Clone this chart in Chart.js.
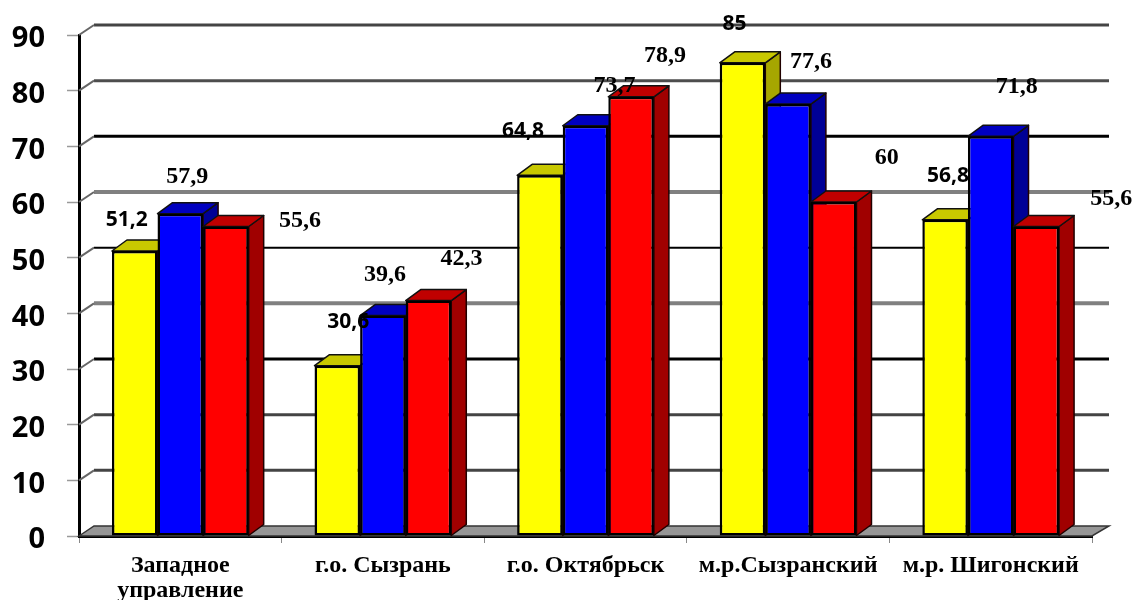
<!DOCTYPE html>
<html>
<head>
<meta charset="utf-8">
<script src="https://cdn.jsdelivr.net/npm/chart.js@4"></script>
<style>
  html, body { margin: 0; padding: 0; background: #fff; overflow: hidden; }
  canvas { display: block; }
</style>
</head>
<body>
<canvas id="myChart" width="1135" height="600"></canvas>
<script>
// data
const categories = [
  ["Западное", "управление"],
  "г.о. Сызрань",
  "г.о. Октябрьск",
  "м.р.Сызранский",
  "м.р. Шигонский",
];
const yellowValues = [51.2, 30.6, 64.8, 85, 56.8];
const blueValues = [57.9, 39.6, 73.7, 77.6, 71.8];
const redValues = [55.6, 42.3, 78.9, 60, 55.6];

// label shift from the top middle of each bar, the labels were moved by hand in the original
const yellowShift = [[-8, -31], [11, -44], [-17, -44], [-8, -39], [3, -44]];
const blueShift = [[7, -37], [2, -41], [29, -40], [23, -42], [26, -50]];
const redShift = [[74, -6], [33, -42], [34, -41], [53, -44], [75, -28]];

// back wall lines, from 0 up to 90
const gridColors = ["#444", "#444", "#444", "#000", "#808080", "#000", "#808080", "#000", "#4d4d4d", "#444"];
const gridWidths = [3, 3, 3, 3, 4, 2, 4, 3, 3, 3];

const depthX = 15;
const depthY = 10;
const barDepthY = 11;

const serifLabel = 'bold 24px "Liberation Serif"';
const sansLabel = 'bold 21px "Open Sans"';

function polygon(ctx, pts, fill, stroke, width) {
  ctx.beginPath();
  pts.forEach((p, i) => (i ? ctx.lineTo(p[0], p[1]) : ctx.moveTo(p[0], p[1])));
  ctx.closePath();
  ctx.fillStyle = fill;
  ctx.fill();
  ctx.lineWidth = width;
  ctx.strokeStyle = stroke;
  ctx.stroke();
}

// walls, floor, bars and labels
const wallPlugin = {
  id: "wall",
  beforeDatasetsDraw(chart) {
    const ctx = chart.ctx;
    const y = chart.scales.y;
    const area = chart.chartArea;
    const base = y.getPixelForValue(0);
    ctx.save();
    polygon(ctx, [
      [area.left, base],
      [area.left + depthX, base - depthY],
      [area.right + depthX + 2, base - depthY],
      [area.right, base],
    ], "#969696", "#333", 1.5);
    y.ticks.forEach((tick, i) => {
      const py = y.getPixelForValue(tick.value);
      if (tick.value > 0) {
        ctx.beginPath();
        ctx.moveTo(area.left + depthX, py - depthY);
        ctx.lineTo(area.right + depthX + 2, py - depthY);
        ctx.lineWidth = gridWidths[i];
        ctx.strokeStyle = gridColors[i];
        ctx.stroke();
        ctx.beginPath();
        ctx.moveTo(area.left, py);
        ctx.lineTo(area.left + depthX, py - depthY);
        ctx.lineWidth = 2;
        ctx.strokeStyle = "#666";
        ctx.stroke();
      }
    });
    ctx.restore();

    // left to right so that each bar covers the side of the one before it
    const metas = chart.getSortedVisibleDatasetMetas();
    metas.forEach((meta) => {
      const ds = chart.data.datasets[meta.index];
      meta.data.forEach((bar) => {
        const hw = bar.width / 2;
        const l = bar.x - hw;
        const r = bar.x + hw;
        ctx.save();
        ctx.lineJoin = "round";
        polygon(ctx, [
          [r, bar.y],
          [r + depthX, bar.y - barDepthY],
          [r + depthX, bar.base - barDepthY],
          [r, bar.base],
        ], ds.sideColor, "#200000", 1.5);
        polygon(ctx, [
          [l, bar.y],
          [l + depthX, bar.y - barDepthY],
          [r + depthX, bar.y - barDepthY],
          [r, bar.y],
        ], ds.topColor, "#111", 1.5);
        ctx.restore();
      });
      meta.controller.draw();
    });

    // returning false below skips afterDatasetsDraw, so the labels go here
    ctx.save();
    ctx.textAlign = "center";
    ctx.textBaseline = "middle";
    ctx.fillStyle = "#000";
    metas.forEach((meta) => {
      const ds = chart.data.datasets[meta.index];
      ctx.font = ds.labelFont;
      meta.data.forEach((bar, i) => {
        const text = String(ds.data[i]).replace(".", ",");
        ctx.fillText(text, bar.x + ds.labelShift[i][0], bar.y + ds.labelShift[i][1]);
      });
    });
    ctx.restore();
    return false;
  },
};

const data = {
  labels: categories,
  datasets: [
    {
      label: "yellow",
      data: yellowValues,
      backgroundColor: "#FFFF00",
      topColor: "#C8C800",
      sideColor: "#A6A600",
      labelFont: sansLabel,
      labelShift: yellowShift,
    },
    {
      label: "blue",
      data: blueValues,
      backgroundColor: "#0000FF",
      topColor: "#0000C0",
      sideColor: "#000096",
      labelFont: serifLabel,
      labelShift: blueShift,
    },
    {
      label: "red",
      data: redValues,
      backgroundColor: "#FF0000",
      topColor: "#C00000",
      sideColor: "#A00000",
      labelFont: serifLabel,
      labelShift: redShift,
    },
  ],
};
data.datasets.forEach((ds) => {
  ds.borderColor = "#000";
  ds.borderWidth = 2.5;
  ds.borderSkipped = false;
  ds.categoryPercentage = 0.675;
  ds.barPercentage = 1;
});

const config = {
  type: "bar",
  data,
  plugins: [wallPlugin],
  options: {
    responsive: false,
    animation: false,
    events: [],
    layout: { padding: { top: 35, right: 43, left: 0, bottom: 0 } },
    plugins: { legend: { display: false }, title: { display: false }, tooltip: { enabled: false } },
    scales: {
      x: {
        afterFit: (scale) => {
          scale.height = 64;
          scale.paddingLeft = 0;
          scale.paddingRight = 0;
        },
        grid: { drawOnChartArea: false, tickLength: 7, tickColor: "#888", tickWidth: 1 },
        border: { color: "#000", width: 3 },
        ticks: {
          color: "#000",
          padding: 10,
          maxRotation: 0,
          autoSkip: false,
          font: { family: "Liberation Serif", weight: "bold", size: 24, lineHeight: 1.05 },
        },
      },
      y: {
        min: 0,
        max: 90,
        afterFit: (scale) => {
          scale.width = 79;
          scale.paddingTop = 0;
          scale.paddingBottom = 0;
        },
        grid: { drawOnChartArea: false, tickLength: 12, tickColor: "#999", tickWidth: 1.5 },
        border: { color: "#000", width: 3 },
        ticks: {
          stepSize: 10,
          color: "#000",
          padding: 22,
          labelOffset: 4,
          font: { family: "Open Sans", weight: "bold", size: 29 },
        },
      },
    },
  },
};

new Chart(document.getElementById("myChart"), config);
</script>
</body>
</html>
